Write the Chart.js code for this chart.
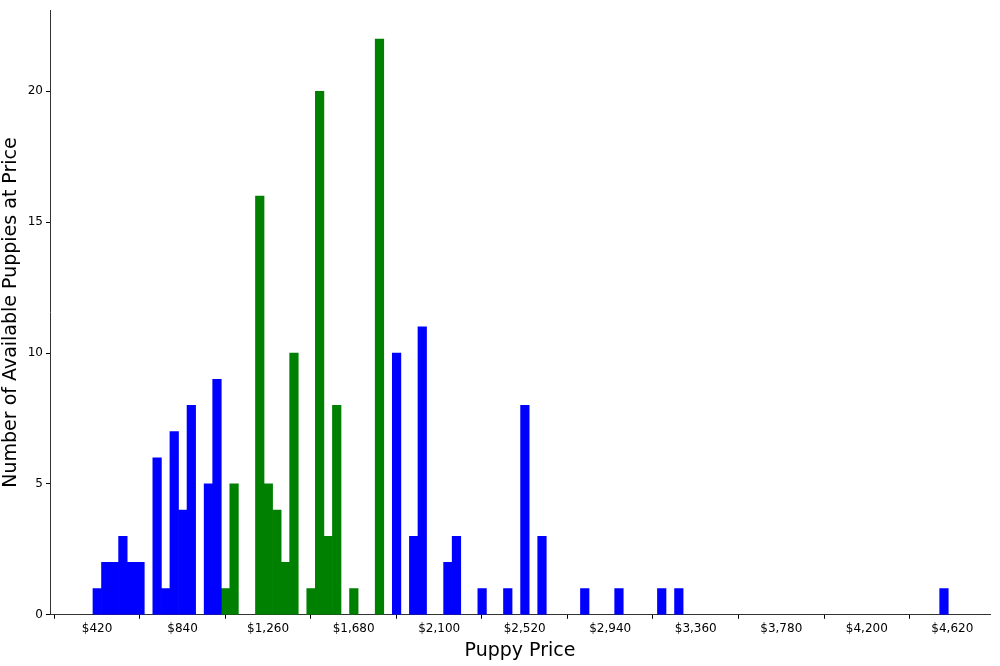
<!DOCTYPE html>
<html>
<head>
<meta charset="utf-8">
<script src="https://cdn.jsdelivr.net/npm/chart.js@4"></script>
<style>
  body { margin: 0; background: #fff; }
</style>
</head>
<body>
<canvas id="c" width="1000" height="666"></canvas>
<script>
// histogram bins: start price and bin width
const binStart = 400;
const binWidth = 42;

// bin indices and counts per colour
const blueBins   = [0, 1, 2, 3, 4, 5, 7, 8, 9, 10, 11, 13, 14, 35, 37, 38, 41, 42, 45, 48, 50, 52, 57, 61, 66, 68, 99];
const blueCounts = [1, 2, 2, 3, 2, 2, 6, 1, 7, 4, 8, 5, 9, 10, 3, 11, 2, 3, 1, 1, 8, 3, 1, 1, 1, 1, 1];
const greenBins   = [15, 16, 19, 20, 21, 22, 23, 25, 26, 27, 28, 30, 33];
const greenCounts = [1, 5, 16, 5, 4, 2, 10, 1, 20, 3, 8, 1, 22];

const xTicks = [420, 840, 1260, 1680, 2100, 2520, 2940, 3360, 3780, 4200, 4620];
const yTicks = [0, 5, 10, 15, 20];

const toPoints = (bins, counts) =>
  bins.map((b, i) => ({ x: binStart + binWidth * b + binWidth / 2, y: counts[i] }));

Chart.defaults.font.family = "'DejaVu Sans', sans-serif";
Chart.defaults.color = "#000";

new Chart(document.getElementById("c").getContext("2d"), {
  type: "bar",
  data: {
    datasets: [
      { data: toPoints(blueBins, blueCounts), backgroundColor: "#0000ff", grouped: false,
        barPercentage: 1, categoryPercentage: 1 },
      { data: toPoints(greenBins, greenCounts), backgroundColor: "#008000", grouped: false,
        barPercentage: 1, categoryPercentage: 1 },
    ],
  },
  options: {
    responsive: false,
    animation: false,
    layout: { padding: { top: 8, right: 10, left: 0, bottom: 4 } },
    plugins: { legend: { display: false }, tooltip: { enabled: false } },
    scales: {
      x: {
        type: "linear",
        min: 189,
        max: 4805,
        offset: false,
        grid: { display: true, drawOnChartArea: false, drawTicks: true, tickLength: 4, color: "#000" },
        border: { display: true, color: "#333" },
        afterBuildTicks: (s) => { s.ticks = xTicks.map(v => ({ value: v })); },
        ticks: { font: { size: 12 }, maxRotation: 0, callback: (v) => "$" + v.toLocaleString("en-US") },
        title: { display: true, text: "Puppy Price", font: { size: 19 }, padding: { top: 0, bottom: 0 } },
      },
      y: {
        min: 0,
        max: 23.1,
        grid: { display: true, drawOnChartArea: false, drawTicks: true, tickLength: 4, color: "#000" },
        border: { display: true, color: "#333" },
        afterBuildTicks: (s) => { s.ticks = yTicks.map(v => ({ value: v })); },
        afterFit: (s) => { s.width = 50; },
        ticks: { font: { size: 12 } },
        title: { display: true, text: "Number of Available Puppies at Price", font: { size: 19 }, padding: { top: 0, bottom: 2 } },
      },
    },
  },
});
</script>
</body>
</html>
